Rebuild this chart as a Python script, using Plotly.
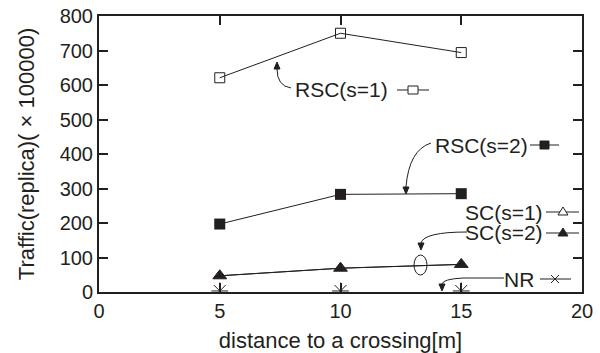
import plotly.graph_objects as go

# ---- data ----
distance = [5, 10, 15]
rsc_s1 = [621, 750, 694]
rsc_s2 = [197, 283, 285]
sc_s1 = [47, 69, 80]
sc_s2 = [47, 69, 80]
nr = [3, 3, 3]

x_ticks = [0, 5, 10, 15, 20]
y_ticks = [0, 100, 200, 300, 400, 500, 600, 700, 800]

W, H = 600, 353
L, R, T, B = 99, 18, 16, 61
PW, PH = W - L - R, H - T - B
FONT = "Liberation Sans, Arial, sans-serif"
INK = "#231f20"


def px(x):
    return (x - L) / PW


def py(y):
    return (H - B - y) / PH


def pt(p):
    return f"{px(p[0]):.5f},{py(p[1]):.5f}"


fig = go.Figure()

line = dict(color=INK, width=1)
fig.add_trace(go.Scatter(x=distance, y=rsc_s1, mode="lines+markers", name="RSC(s=1)",
                         line=line, marker=dict(symbol="square-open", size=10, color=INK, line=dict(width=1))))
fig.add_trace(go.Scatter(x=distance, y=rsc_s2, mode="lines+markers", name="RSC(s=2)",
                         line=line, marker=dict(symbol="square", size=11, color=INK)))
fig.add_trace(go.Scatter(x=distance, y=sc_s1, mode="lines+markers", name="SC(s=1)",
                         line=line, marker=dict(symbol="triangle-up-open", size=12, color=INK, line=dict(width=1))))
fig.add_trace(go.Scatter(x=distance, y=sc_s2, mode="lines+markers", name="SC(s=2)",
                         line=line, marker=dict(symbol="triangle-up", size=12, color=INK)))
fig.add_trace(go.Scatter(x=distance, y=nr, mode="markers", name="NR",
                         marker=dict(symbol="asterisk-open", size=14, color=INK, line=dict(width=1, color=INK))))

shapes = []
annotations = []


def label(text, x_right, y):
    annotations.append(dict(text=text, x=px(x_right), y=py(y), xref="paper", yref="paper",
                            xanchor="right", yanchor="middle", showarrow=False,
                            font=dict(family=FONT, size=21, color=INK)))


def seg(x0, y0, x1, y1, w=1):
    shapes.append(dict(type="line", xref="paper", yref="paper", x0=px(x0), x1=px(x1),
                       y0=py(y0), y1=py(y1), line=dict(color=INK, width=w)))


def polygon(pts, fill):
    s = "M " + pt(pts[0]) + " " + " ".join("L " + pt(p) for p in pts[1:]) + " Z"
    shapes.append(dict(type="path", xref="paper", yref="paper", path=s,
                       line=dict(color=INK, width=1), fillcolor=fill))


def curve(start, ctrl, end, lead=None):
    s = "M " + pt(start)
    if lead is not None:
        s += " L " + pt(lead)
    s += " Q " + pt(ctrl) + " " + pt(end)
    shapes.append(dict(type="path", xref="paper", yref="paper", path=s,
                       line=dict(color=INK, width=1), fillcolor="rgba(0,0,0,0)"))


def head(tx, ty, direction):
    d = 7 if direction == "up" else -7
    polygon([(tx, ty), (tx - 3, ty + d), (tx + 3, ty + d)], INK)


# legend entries drawn in the plot (as in the reference)
label("RSC(s=1)", 390, 90)
seg(397, 90, 429, 90)
shapes.append(dict(type="rect", xref="paper", yref="paper", x0=px(408), x1=px(418),
                   y0=py(86), y1=py(94), line=dict(color=INK, width=1), fillcolor="white"))

label("RSC(s=2)", 530, 145)
seg(530, 145, 559, 145)
shapes.append(dict(type="rect", xref="paper", yref="paper", x0=px(540), x1=px(549),
                   y0=py(141), y1=py(149), line=dict(color=INK, width=1), fillcolor=INK))

label("SC(s=1)", 545, 212)
seg(546, 212, 579, 212)
polygon([(563, 207), (558, 215), (568, 215)], "white")

label("SC(s=2)", 545, 233)
seg(546, 233, 579, 233)
polygon([(563, 228), (558, 236), (568, 236)], INK)

label("NR", 536, 279)
seg(540, 279, 571, 279)
seg(551, 275, 559, 283)
seg(551, 283, 559, 275)

# callout curves with arrowheads
curve((291, 88), (277, 86), (277, 69))
head(277, 62, "up")

curve((431, 143), (409, 150), (406, 187))
head(406, 194, "down")

curve((467, 232), (424, 232), (421, 243))
head(421, 250, "down")

curve((504, 278), (443, 279), (442, 284), lead=(463, 278))
head(442, 291, "down")

# ellipse grouping SC markers
shapes.append(dict(type="circle", xref="paper", yref="paper", x0=px(414), x1=px(427),
                   y0=py(255), y1=py(275), line=dict(color=INK, width=1)))

axis_common = dict(showline=True, linecolor=INK, linewidth=2, mirror="ticks",
                   ticks="inside", ticklen=9, tickwidth=1.5, tickcolor=INK,
                   showgrid=False, zeroline=False,
                   tickfont=dict(family=FONT, size=20, color=INK))

fig.update_layout(
    width=W, height=H,
    margin=dict(l=L, r=R, t=T, b=B, autoexpand=False),
    paper_bgcolor="white", plot_bgcolor="white",
    showlegend=False,
    shapes=shapes, annotations=annotations,
    xaxis=dict(range=[0, 20], tickvals=x_ticks, ticktext=[str(v) for v in x_ticks],
               title=dict(text="distance to a crossing[m]", standoff=15,
                          font=dict(family=FONT, size=22, color=INK)),
               **axis_common),
    yaxis=dict(range=[0, 800], tickvals=y_ticks, ticktext=[str(v) for v in y_ticks],
               title=dict(text="Traffic(replica)( \u00d7 100000)", standoff=19,
                          font=dict(family=FONT, size=22, color=INK)),
               **axis_common),
)

fig.write_html("out.html")
